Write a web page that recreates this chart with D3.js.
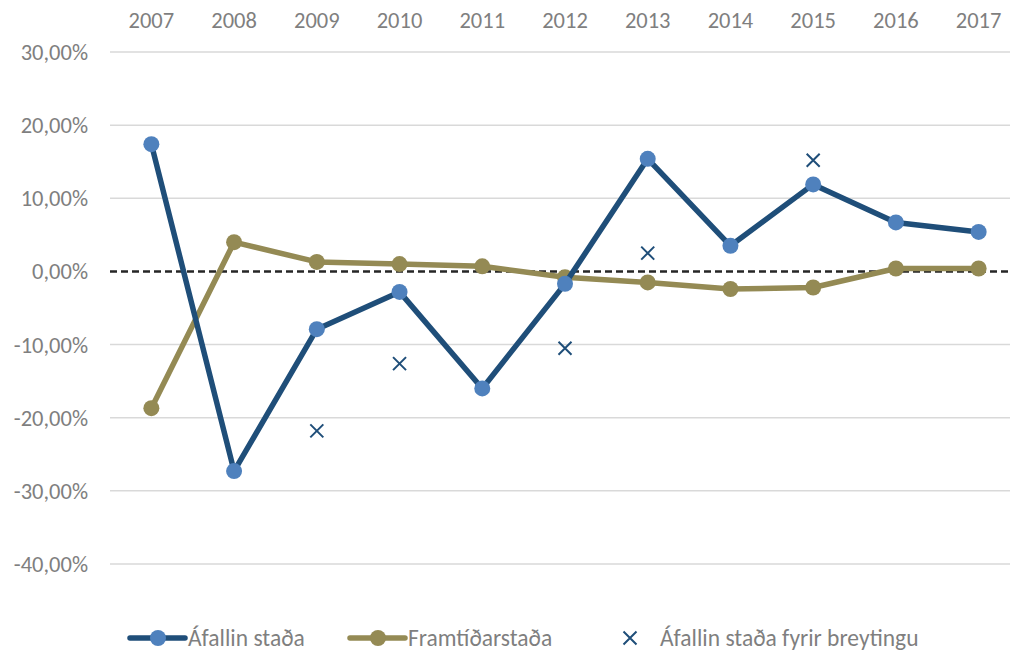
<!DOCTYPE html>
<html>
<head>
<meta charset="utf-8">
<script src="https://cdn.jsdelivr.net/npm/d3@7"></script>
<style>
  body { margin: 0; background: #fff; }
  text { font-family: Calibri, Carlito, Lato, sans-serif; }
</style>
</head>
<body>
<div id="chart"></div>
<script>
// chart values (percent)
var years = ["2007", "2008", "2009", "2010", "2011", "2012", "2013", "2014", "2015", "2016", "2017"];
var afallin = [17.4, -27.3, -7.9, -2.8, -16.0, -1.7, 15.4, 3.5, 11.9, 6.7, 5.4];
var framtid = [-18.7, 4.0, 1.3, 1.0, 0.7, -0.8, -1.5, -2.4, -2.2, 0.4, 0.4];
// only some years have a value before the change
var fyrir = [null, null, -21.8, -12.6, null, -10.5, 2.5, null, 15.2, null, null];
var yTicks = [30, 20, 10, 0, -10, -20, -30, -40];
var seriesNames = ["Áfallin staða", "Framtíðarstaða", "Áfallin staða fyrir breytingu"];

var w = 1010, h = 652;
var navy = "#1f4e79", lightBlue = "#4f81bd", gold = "#948a54", grey = "#7f7f7f";

function draw() {
    var svg = d3.select("#chart").append("svg").attr("width", w).attr("height", h);

    var xScale = d3.scaleBand()
        .domain(years)
        .range([110, 1020]);

    var yScale = d3.scaleLinear()
        .domain([-40, 30])
        .range([564, 52]);

    function cx(d, i) { return xScale(years[i]) + xScale.bandwidth() / 2; }

    // gridlines (zero line is drawn dashed later)
    svg.selectAll(".grid")
        .data(yTicks.filter(function (d) { return d !== 0; }))
        .enter()
        .append("line")
        .attr("x1", 110)
        .attr("x2", w)
        .attr("y1", function (d) { return yScale(d); })
        .attr("y2", function (d) { return yScale(d); })
        .attr("stroke", "#d9d9d9")
        .attr("stroke-width", 1.5);

    // y labels
    svg.selectAll(".ylab")
        .data(yTicks)
        .enter()
        .append("text")
        .attr("x", 88)
        .attr("y", function (d) { return yScale(d) + 8; })
        .attr("text-anchor", "end")
        .attr("font-size", "22.5px")
        .attr("fill", grey)
        .text(function (d) { return d3.format(".2f")(d).replace(".", ",").replace("−", "-") + "%"; });

    // year labels along the top
    svg.selectAll(".xlab")
        .data(years)
        .enter()
        .append("text")
        .attr("x", function (d) { return xScale(d) + xScale.bandwidth() / 2; })
        .attr("y", 28)
        .attr("text-anchor", "middle")
        .attr("font-size", "22.5px")
        .attr("fill", grey)
        .text(function (d) { return d; });

    // dashed zero line
    svg.append("line")
        .attr("x1", 110)
        .attr("x2", w)
        .attr("y1", yScale(0))
        .attr("y2", yScale(0))
        .attr("stroke", "#262626")
        .attr("stroke-width", 2.5)
        .attr("stroke-dasharray", "7,4");

    var line = d3.line()
        .x(cx)
        .y(function (d) { return yScale(d); });

    // Framtíðarstaða
    svg.append("path")
        .attr("d", line(framtid))
        .attr("fill", "none")
        .attr("stroke", gold)
        .attr("stroke-width", 5.5)
        .attr("stroke-linejoin", "round");

    svg.selectAll(".goldDot")
        .data(framtid)
        .enter()
        .append("circle")
        .attr("cx", cx)
        .attr("cy", function (d) { return yScale(d); })
        .attr("r", 8)
        .attr("fill", gold);

    // Áfallin staða
    svg.append("path")
        .attr("d", line(afallin))
        .attr("fill", "none")
        .attr("stroke", navy)
        .attr("stroke-width", 5.5)
        .attr("stroke-linejoin", "round");

    svg.selectAll(".blueDot")
        .data(afallin)
        .enter()
        .append("circle")
        .attr("cx", cx)
        .attr("cy", function (d) { return yScale(d); })
        .attr("r", 8)
        .attr("fill", lightBlue);

    // crosses
    svg.selectAll(".cross")
        .data(fyrir.map(function (d, i) { return { v: d, i: i }; }).filter(function (d) { return d.v !== null; }))
        .enter()
        .append("path")
        .attr("d", function (d) {
            var x = cx(null, d.i), y = yScale(d.v), s = 6.5;
            return "M" + (x - s) + "," + (y - s) + "L" + (x + s) + "," + (y + s) +
                "M" + (x - s) + "," + (y + s) + "L" + (x + s) + "," + (y - s);
        })
        .attr("stroke", navy)
        .attr("stroke-width", 2)
        .attr("fill", "none");

    // legend
    var legY = 638;
    var legX = [130, 350, 602];
    seriesNames.forEach(function (name, k) {
        var g = svg.append("g");
        var lx = legX[k];
        if (k < 2) {
            var col = k === 0 ? navy : gold;
            g.append("line")
                .attr("x1", lx).attr("x2", lx + 55)
                .attr("y1", legY).attr("y2", legY)
                .attr("stroke", col)
                .attr("stroke-width", 5.5)
                .attr("stroke-linecap", "round");
            g.append("circle")
                .attr("cx", lx + 28).attr("cy", legY)
                .attr("r", 8)
                .attr("fill", k === 0 ? lightBlue : gold);
        } else {
            var s = 6.5, x0 = lx + 28;
            g.append("path")
                .attr("d", "M" + (x0 - s) + "," + (legY - s) + "L" + (x0 + s) + "," + (legY + s) +
                    "M" + (x0 - s) + "," + (legY + s) + "L" + (x0 + s) + "," + (legY - s))
                .attr("stroke", navy)
                .attr("stroke-width", 2);
        }
        g.append("text")
            .attr("x", lx + 58)
            .attr("y", legY + 8)
            .attr("font-size", "23.5px")
            .attr("fill", grey)
            .text(name);
    });
}

window.onload = draw;
</script>
</body>
</html>
